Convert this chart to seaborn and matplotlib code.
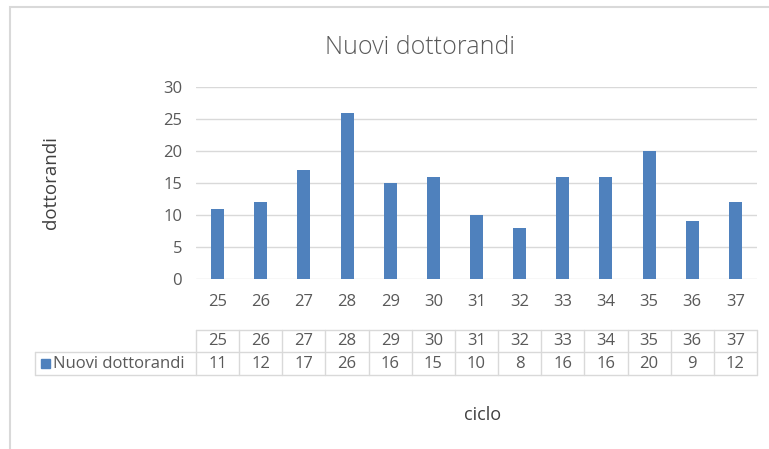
import matplotlib
matplotlib.use("Agg")
import matplotlib.pyplot as plt
import matplotlib.transforms as mtransforms
from matplotlib.patches import Rectangle
import seaborn as sns
import pandas as pd

cicli = ['25', '26', '27', '28', '29', '30', '31', '32', '33', '34', '35', '36', '37']
# bar heights as drawn, and the values printed in the data table (29/30 differ in the source)
bar_values = [11, 12, 17, 26, 15, 16, 10, 8, 16, 16, 20, 9, 12]
table_values = [11, 12, 17, 26, 16, 15, 10, 8, 16, 16, 20, 9, 12]
series_name = 'Nuovi dottorandi'

sns.set_style('white')
plt.rcParams['font.family'] = ['Open Sans', 'DejaVu Sans']

blue = '#4F81BD'
grid_c = '#D9D9D9'
text_c = '#595959'

W, H = 769, 449
fig = plt.figure(figsize=(W / 100, H / 100), dpi=100)

# outer chart frame (left and top edges visible in the screenshot)
fig.add_artist(Rectangle((10 / W, -0.1), 1.2, 1 - 7 / H + 0.1, transform=fig.transFigure,
                         fill=False, edgecolor=grid_c, linewidth=1.5))

ax = fig.add_axes([196 / W, 1 - 279 / H, (757 - 196) / W, (279 - 87) / H])
df = pd.DataFrame({'ciclo': cicli, 'dottorandi': bar_values})
sns.barplot(data=df, x='ciclo', y='dottorandi', color=blue, saturation=1, width=0.3,
            linewidth=0, ax=ax)

ax.set_ylim(0, 30)
ax.set_xlim(-0.5, len(cicli) - 0.5)
ax.set_yticks(range(0, 31, 5))
ax.yaxis.grid(True, color=grid_c, linewidth=1)
ax.set_axisbelow(True)
for s in ax.spines.values():
    s.set_visible(False)
ax.tick_params(axis='both', length=0, labelsize=12, labelcolor=text_c)
ax.tick_params(axis='x', pad=11)
ax.tick_params(axis='y', pad=10)
ax.set_xlabel('')
ax.set_ylabel('dottorandi', fontsize=13.5, color='#404040')
ax.yaxis.set_label_coords(-136 / 561, 0.5)

fig.text(420 / W, 1 - 47 / H, 'Nuovi dottorandi', ha='center', va='center',
         fontsize=18, color=text_c, fontweight='light')

# data table below the axis
tr = mtransforms.blended_transform_factory(ax.transData, ax.transAxes)
ph = 192.0
y0 = (279 - 330) / ph
y1 = (279 - 352) / ph
y2 = (279 - 375) / ph
n = len(cicli)
leg_left = -0.5 - (196 - 35) / 43.15
line_kw = dict(color=grid_c, linewidth=1, transform=tr, clip_on=False)

ax.plot([-0.5, n - 0.5], [y0, y0], **line_kw)
ax.plot([leg_left, n - 0.5], [y1, y1], **line_kw)
ax.plot([leg_left, n - 0.5], [y2, y2], **line_kw)
ax.plot([leg_left, leg_left], [y1, y2], **line_kw)
for i in range(n + 1):
    ax.plot([i - 0.5, i - 0.5], [y0, y2], **line_kw)

for i, (c, v) in enumerate(zip(cicli, table_values)):
    ax.text(i, (y0 + y1) / 2, c, transform=tr, ha='center', va='center',
            fontsize=12, color=text_c, clip_on=False)
    ax.text(i, (y1 + y2) / 2, str(v), transform=tr, ha='center', va='center',
            fontsize=12, color=text_c, clip_on=False)

ax.add_patch(Rectangle((leg_left + 6 / 43.15, (y1 + y2) / 2 - 0.024), 9 / 43.15, 0.048,
                       transform=tr, color=blue, clip_on=False))
ax.text(leg_left + 18 / 43.15, (y1 + y2) / 2, series_name, transform=tr, ha='left',
        va='center', fontsize=12, color=text_c, clip_on=False)

fig.text(483 / W, 1 - 415 / H, 'ciclo', ha='center', va='center', fontsize=13, color='#404040')

fig.savefig('out.png', dpi=100)
